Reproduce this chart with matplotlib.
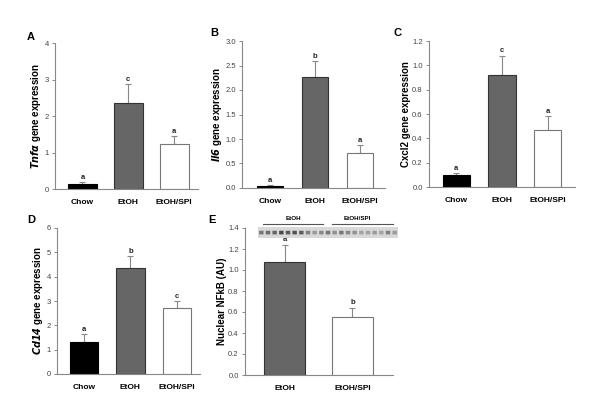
import matplotlib
matplotlib.use('Agg')
import matplotlib.pyplot as plt
import numpy as np

plt.rcParams['font.family'] = ['Liberation Sans', 'DejaVu Sans']

groups3 = ['Chow', 'EtOH', 'EtOH/SPI']
groups2 = ['EtOH', 'EtOH/SPI']

tnfa = [0.15, 2.35, 1.23]
tnfa_err = [0.05, 0.52, 0.22]
tnfa_sig = ['a', 'c', 'a']

il6 = [0.05, 2.27, 0.72]
il6_err = [0.02, 0.33, 0.16]
il6_sig = ['a', 'b', 'a']

cxcl2 = [0.095, 0.92, 0.47]
cxcl2_err = [0.02, 0.16, 0.11]
cxcl2_sig = ['a', 'c', 'a']

cd14 = [1.3, 4.37, 2.72]
cd14_err = [0.35, 0.48, 0.28]
cd14_sig = ['a', 'b', 'c']

nfkb = [1.08, 0.55]
nfkb_err = [0.16, 0.09]
nfkb_sig = ['a', 'b']

# band darkness of the western blot lanes (0 = blank, 1 = black)
blot_bands = [0.55, 0.6, 0.65, 0.8, 0.7, 0.75, 0.7, 0.5, 0.35, 0.45, 0.55,
              0.4, 0.55, 0.45, 0.4, 0.3, 0.3, 0.35, 0.3, 0.5, 0.35]

fills = {'Chow': 'black', 'EtOH': '#666666', 'EtOH/SPI': 'white'}
edges = {'Chow': 'black', 'EtOH': '#333333', 'EtOH/SPI': '#777777'}
axcol = '#888888'

fig = plt.figure(figsize=(6, 4.16), dpi=100)

def px(x0, x1, y0, y1):
    return [x0/600, 1-y1/416, (x1-x0)/600, (y1-y0)/416]

def panel(rect, labels, vals, errs, sig, ymax, ystep, ylab, fmt, xlim, width, off):
    ax = fig.add_axes(rect)
    x = np.arange(len(vals))
    for i, g in enumerate(labels):
        ax.bar(x[i], vals[i], width=width, color=fills[g], edgecolor=edges[g], linewidth=0.8, zorder=2)
        ax.errorbar(x[i], vals[i], yerr=[[0], [errs[i]]], fmt='none', ecolor=axcol,
                    elinewidth=0.8, capsize=2.5, capthick=0.8, zorder=1)
        ax.text(x[i], vals[i]+errs[i]+off, sig[i], ha='center', va='bottom', fontsize=5.5,
                fontweight='bold', color='#222222')
    ax.set_xlim(xlim)
    ax.set_ylim(0, ymax)
    ax.set_yticks(np.arange(0, ymax+ystep/2, ystep))
    ax.set_yticklabels([fmt.format(v) for v in np.arange(0, ymax+ystep/2, ystep)])
    ax.set_xticks(x)
    ax.set_xticklabels(labels, fontsize=6, fontweight='bold')
    ax.tick_params(axis='y', labelsize=5.5, length=2.5, width=0.7, color=axcol, pad=2, labelcolor='#444444')
    ax.tick_params(axis='x', length=0, pad=7)
    for s in ['top', 'right']:
        ax.spines[s].set_visible(False)
    for s in ['left', 'bottom']:
        ax.spines[s].set_color(axcol)
        ax.spines[s].set_linewidth(0.8)
    ax.set_ylabel(ylab, fontsize=7, fontweight='bold', labelpad=1)
    return ax

panel(px(55, 198, 43, 189), groups3, tnfa, tnfa_err, tnfa_sig, 4, 1,
      r'$\mathbfit{Tnf\alpha}$ gene expression', '{:.0f}', (-0.6, 2.52), 0.63, 0.03)
panel(px(242, 385, 41, 188), groups3, il6, il6_err, il6_sig, 3.0, 0.5,
      r'$\mathbfit{Il6}$ gene expression', '{:.1f}', (-0.63, 2.55), 0.58, 0.02)
panel(px(429, 575, 41, 187), groups3, cxcl2, cxcl2_err, cxcl2_sig, 1.2, 0.2,
      'Cxcl2 gene expression', '{:.1f}', (-0.6, 2.6), 0.6, 0.01)
panel(px(57, 200, 228, 374), groups3, cd14, cd14_err, cd14_sig, 6, 1,
      r'$\mathbfit{Cd14}$ gene expression', '{:.0f}', (-0.58, 2.5), 0.61, 0.04)
panel(px(245, 393, 228, 375), groups2, nfkb, nfkb_err, nfkb_sig, 1.4, 0.2,
      'Nuclear NFkB (AU)', '{:.1f}', (-0.585, 1.6), 0.6, 0.015)

# panel letters
for lt, (lx, ly) in zip('ABCDE', [(27, 37), (210, 33), (393, 33), (27, 220), (208, 220)]):
    fig.text(lx/600, 1-ly/416, lt, ha='left', va='center', fontsize=8, fontweight='bold')

# blot strip
axb = fig.add_axes(px(258, 398, 227, 238))
strip = np.ones((10, len(blot_bands)*6)) * 0.85
for i, d in enumerate(blot_bands):
    strip[4:7, i*6+1:i*6+5] = 0.85 - 0.7*d
axb.imshow(strip, cmap='gray', vmin=0, vmax=1, aspect='auto', interpolation='bilinear')
axb.axis('off')
fig.add_artist(plt.Line2D([263/600, 323/600], [1-224/416]*2, color='#555555', lw=0.8))
fig.add_artist(plt.Line2D([332/600, 393/600], [1-224/416]*2, color='#555555', lw=0.8))
fig.text(293/600, 1-218/416, 'EtOH', ha='center', va='center', fontsize=4.5, fontweight='bold')
fig.text(357/600, 1-218/416, 'EtOH/SPI', ha='center', va='center', fontsize=4.5, fontweight='bold')

fig.savefig('out.png', dpi=100)
